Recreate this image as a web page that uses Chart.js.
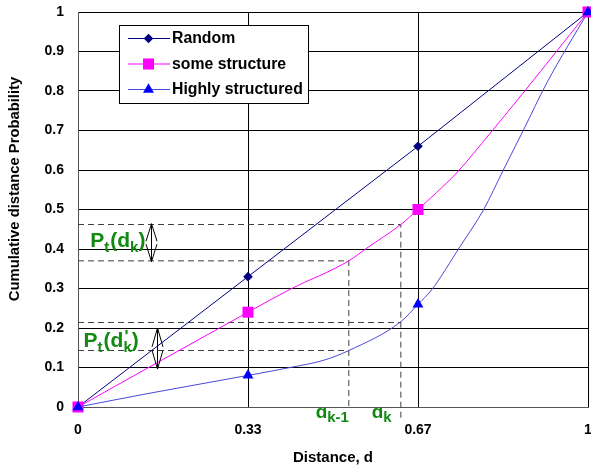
<!DOCTYPE html>
<html><head><meta charset="utf-8">
<script src="https://cdn.jsdelivr.net/npm/chart.js@4.4.1/dist/chart.umd.min.js"></script>
<style>html,body{margin:0;padding:0;background:#fff;}#wrap{width:591px;height:470px;position:relative;}</style>
</head><body><div id="wrap"><canvas id="c"></canvas></div>
<script>
// ---- data ----
const seriesNames = ['Random', 'some structure', 'Highly structured'];
const randomX = [0, 1/3, 2/3, 1];
const randomY = [0, 0.33, 0.66, 1];
const someX = [0, 1/3, 0.416, 0.531, 0.566, 0.633, 2/3, 0.703, 0.742, 0.808, 0.876, 0.938, 1];
const someY = [0, 0.24, 0.298, 0.37, 0.402, 0.462, 0.5, 0.543, 0.592, 0.693, 0.80, 0.90, 1];
const highX = [0, 0.141, 1/3, 0.416, 0.481, 0.531, 0.633, 2/3, 0.693, 0.749, 0.795, 0.834, 0.873, 0.919, 1];
const highY = [0, 0.035, 0.08, 0.10, 0.118, 0.143, 0.216, 0.26, 0.296, 0.406, 0.499, 0.60, 0.70, 0.82, 1];
const markerX = [0, 1/3, 2/3, 1];
const xTickValues = [0, 1/3, 2/3, 1];
const xTickLabels = ['0', '0.33', '0.67', '1'];
const yTickValues = [0, 0.1, 0.2, 0.3, 0.4, 0.5, 0.6, 0.7, 0.8, 0.9, 1];
const yTickLabels = ['0', '0.1', '0.2', '0.3', '0.4', '0.5', '0.6', '0.7', '0.8', '0.9', '1'];
const dK = 0.633, dK1 = 0.531;
const ptDk = 0.462, ptDk1 = 0.37, ptDpk = 0.214, ptDpk1 = 0.143;
const guideA = [[0, ptDk], [dK, ptDk], [dK, -0.037]];
const guideB = [[0, ptDk1], [dK1, ptDk1], [dK1, 0]];
const guideC = [[0, ptDpk], [dK, ptDpk]];
const guideD = [[0, ptDpk1], [dK1, ptDpk1]];
const arrows = [[0.143, 0.464, 0.368], [0.155, 0.200, 0.096]];
const xTitle = 'Distance, d';
const yTitle = 'Cumulative distance Probability';

// ---- build ----
const pts = (xs, ys) => xs.map((x, i) => ({x, y: ys[i]}));
const radiusFor = (xs, r) => xs.map(x => markerX.some(m => Math.abs(m - x) < 1e-9) ? r : 0);
const guide = arr => ({label: '', data: arr.map(p => ({x: p[0], y: p[1]})), borderColor: '#404040', borderWidth: 1,
  borderDash: [6, 4], pointRadius: 0, tension: 0, clip: false, order: 5, isGuide: true});
const green = '#118a11';
const bold = "bold %spx 'Liberation Sans', Arial, sans-serif";
const F = s => bold.replace('%s', s);

const overlay = {
  id: 'overlay',
  afterDatasetsDraw(chart) {
    const {ctx, scales: {x, y}, chartArea} = chart;
    // arrows
    ctx.save();
    ctx.strokeStyle = '#000'; ctx.lineWidth = 1;
    arrows.forEach(a => {
      const px = Math.round(x.getPixelForValue(a[0])) + 0.5, t = y.getPixelForValue(a[1]), b = y.getPixelForValue(a[2]);
      const L = (b - t) * 0.46, w = 5.5;
      ctx.beginPath();
      ctx.moveTo(px, t); ctx.lineTo(px, b);
      ctx.moveTo(px - w, t + L); ctx.lineTo(px, t); ctx.lineTo(px + w, t + L);
      ctx.moveTo(px - w, b - L); ctx.lineTo(px, b); ctx.lineTo(px + w, b - L);
      ctx.stroke();
    });
    ctx.restore();
    // green labels
    ctx.save();
    ctx.fillStyle = green; ctx.textBaseline = 'alphabetic'; ctx.textAlign = 'left';
    const run = (parts, px, py) => {
      let cx = px;
      parts.forEach(p => { ctx.font = F(p[1]); ctx.fillText(p[0], cx, py + p[2]); cx += ctx.measureText(p[0]).width + (p[3] || 0); });
    };
    run([['P', 21, 0], ['t', 15, 5, 1], ['(d', 21, 0], ['k', 15, 5], [')', 21, 0]], x.getPixelForValue(0.024), y.getPixelForValue(0.405));
    {
      const px = x.getPixelForValue(0.011), py = y.getPixelForValue(0.153);
      let cx = px;
      ctx.font = F(21); ctx.fillText('P', cx, py); cx += ctx.measureText('P').width;
      ctx.font = F(15); ctx.fillText('t', cx, py + 5); cx += ctx.measureText('t').width + 1;
      ctx.font = F(21); ctx.fillText('(d', cx, py); cx += ctx.measureText('(d').width;
      ctx.font = F(17); ctx.fillText("'", cx + 1, py - 5);
      ctx.font = F(15); ctx.fillText('k', cx, py + 5); cx += ctx.measureText('k').width;
      ctx.font = F(21); ctx.fillText(')', cx, py);
    }
    ctx.restore();
    // d_k-1 and d_k below axis (top hidden by plot area)
    ctx.save();
    ctx.beginPath(); ctx.rect(0, chartArea.bottom + 1, chart.width, chart.height); ctx.clip();
    ctx.fillStyle = green; ctx.textAlign = 'left';
    run([['d', 19, 0], ['k-1', 15, 4]], x.getPixelForValue(0.466), y.getPixelForValue(-0.0266));
    run([['d', 19, 0], ['k', 15, 4]], x.getPixelForValue(0.576), y.getPixelForValue(-0.0266));
    ctx.restore();
  },
  afterDraw(chart) {
    const {ctx} = chart;
    // y title
    ctx.save();
    ctx.translate(15, 189); ctx.rotate(-Math.PI / 2);
    ctx.font = F(14.8); ctx.fillStyle = '#000'; ctx.textAlign = 'center'; ctx.textBaseline = 'middle';
    ctx.fillText(yTitle, 0, 0);
    ctx.restore();
    // legend box
    ctx.save();
    const bx = 119.5, by = 25.5, bw = 189, bh = 78;
    ctx.fillStyle = '#fff'; ctx.fillRect(bx, by, bw, bh);
    ctx.strokeStyle = '#000'; ctx.lineWidth = 1; ctx.strokeRect(bx, by, bw, bh);
    const rows = [38, 63.5, 89];
    chart.data.datasets.filter(d => !d.isGuide).forEach((ds, i) => {
      const ry = rows[i];
      ctx.strokeStyle = ds.borderColor; ctx.lineWidth = 1;
      ctx.beginPath(); ctx.moveTo(128, ry + 0.5); ctx.lineTo(170, ry + 0.5); ctx.stroke();
      ctx.fillStyle = ds.pointBackgroundColor; ctx.strokeStyle = ds.pointBorderColor;
      Chart.helpers.drawPoint(ctx, {pointStyle: ds.pointStyle, radius: ds.legendRadius, rotation: 0, borderWidth: 0}, 148.5, ry + 0.5);
      ctx.fillStyle = '#000'; ctx.font = F(15.8); ctx.textAlign = 'left'; ctx.textBaseline = 'middle';
      ctx.fillText(ds.label, 172, ry + 1);
    });
    ctx.restore();
  }
};

new Chart(document.getElementById('c'), {
  type: 'line',
  data: {
    datasets: [
      {label: seriesNames[0], data: pts(randomX, randomY), borderColor: '#000080', borderWidth: 1,
        pointStyle: 'rectRot', pointRadius: radiusFor(randomX, 4.8), legendRadius: 4.8, clip: false,
        pointBackgroundColor: '#000080', pointBorderColor: '#000080', pointBorderWidth: 0, tension: 0, order: 3},
      {label: seriesNames[1], data: pts(someX, someY), borderColor: '#ff00ff', borderWidth: 1,
        pointStyle: 'rect', pointRadius: radiusFor(someX, 7.8), legendRadius: 7.8, clip: false,
        pointBackgroundColor: '#ff00ff', pointBorderColor: '#ff00ff', pointBorderWidth: 0,
        cubicInterpolationMode: 'monotone', order: 2},
      {label: seriesNames[2], data: pts(highX, highY), borderColor: '#4848d8', borderWidth: 1,
        pointStyle: 'triangle', pointRadius: radiusFor(highX, 6.3), legendRadius: 6.3, clip: false,
        pointBackgroundColor: '#0000ff', pointBorderColor: '#0000ff', pointBorderWidth: 0,
        cubicInterpolationMode: 'monotone', order: 0},
      guide(guideA), guide(guideB), guide(guideC), guide(guideD)
    ]
  },
  options: {
    responsive: true, maintainAspectRatio: false, animation: false,
    devicePixelRatio: 1,
    layout: {autoPadding: false, padding: {left: 0, right: 3, top: 12, bottom: 0}},
    plugins: {legend: {display: false}, tooltip: {enabled: false}},
    elements: {point: {hitRadius: 0}},
    scales: {
      x: {
        type: 'linear', min: 0, max: 1,
        afterBuildTicks: s => { s.ticks = xTickValues.map(v => ({value: v})); },
        afterFit: s => { s.height = 63; s.paddingLeft = 0; s.paddingRight = 0; },
        ticks: {callback: (v, i) => xTickLabels[i], padding: 15, color: '#000', maxRotation: 0, autoSkip: false,
          font: {family: "'Liberation Sans', Arial, sans-serif", size: 14, weight: 'bold'}},
        grid: {color: '#000', lineWidth: 1, drawTicks: false},
        border: {color: '#555', width: 1},
        title: {display: true, text: xTitle, color: '#000', padding: {top: 0, bottom: 3},
          font: {family: "'Liberation Sans', Arial, sans-serif", size: 15, weight: 'bold'}}
      },
      y: {
        type: 'linear', min: 0, max: 1,
        afterBuildTicks: s => { s.ticks = yTickValues.map(v => ({value: v})); },
        afterFit: s => { s.width = 78; s.paddingTop = 0; s.paddingBottom = 0; },
        ticks: {callback: (v, i) => yTickLabels[i], padding: 14, color: '#000', autoSkip: false,
          font: {family: "'Liberation Sans', Arial, sans-serif", size: 14, weight: 'bold'}},
        grid: {color: '#000', lineWidth: 1, drawTicks: false},
        border: {color: '#555', width: 1}
      }
    }
  },
  plugins: [overlay]
});
</script></body></html>
